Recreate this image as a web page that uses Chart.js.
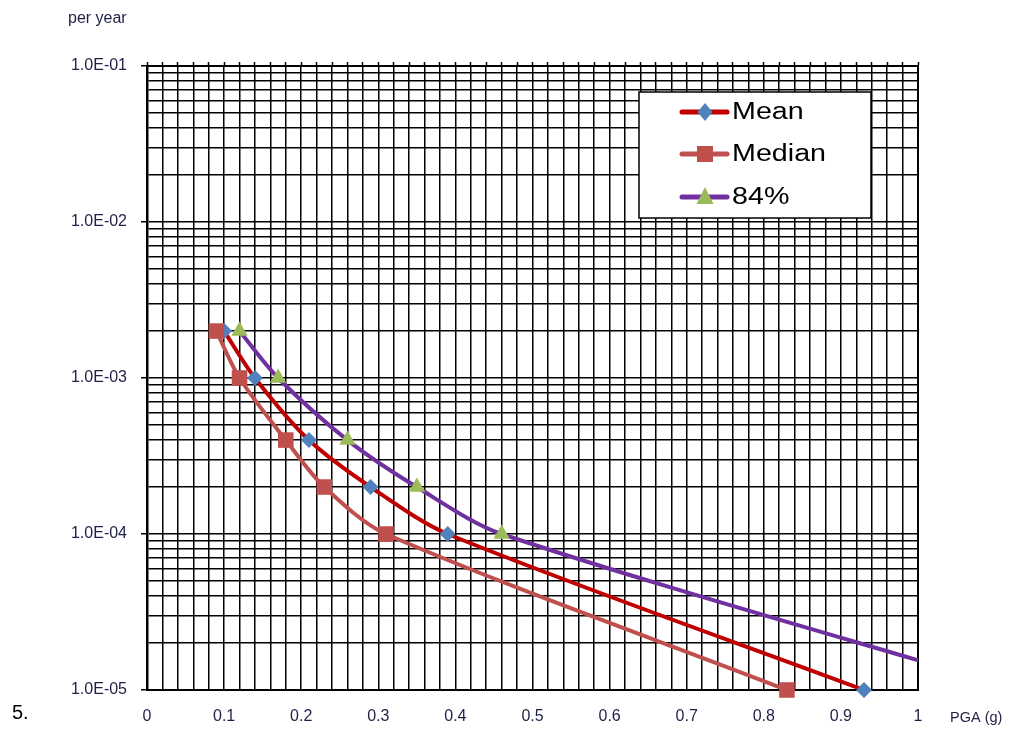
<!DOCTYPE html>
<html>
<head>
<meta charset="utf-8">
<script src="https://cdn.jsdelivr.net/npm/chart.js@4.4.0/dist/chart.umd.min.js"></script>
<style>
  html, body { margin: 0; padding: 0; background: #fff; }
  #wrap { position: relative; width: 1010px; height: 733px; }
</style>
</head>
<body>
<div id="wrap"><canvas id="hazardChart" width="1010" height="733"></canvas></div>
<script>
// annual exceedance rates shared by all three curves
const rates = [2e-3, 1e-3, 4e-4, 2e-4, 1e-4, 1e-5];
const meanPga = [0.10, 0.14, 0.21, 0.29, 0.39, 0.93];
const medianPga = [0.09, 0.12, 0.18, 0.23, 0.31, 0.83];
const p84Pga = [0.12, 0.17, 0.26, 0.35, 0.46, 1.13];

const seriesNames = ["Mean", "Median", "84%"];
const lineColors = ["#c00000", "#c0504d", "#7030a0"];
const markerColors = ["#4f81bd", "#c0504d", "#9bbb59"];
const markerShapes = ["diamond", "square", "triangle"];

const xTickLabels = ["0", "0.1", "0.2", "0.3", "0.4", "0.5", "0.6", "0.7", "0.8", "0.9", "1"];
const yMajorTicks = [1e-5, 1e-4, 1e-3, 1e-2, 1e-1];
const yTickLabels = ["1.0E-05", "1.0E-04", "1.0E-03", "1.0E-02", "1.0E-01"];

const FONT = "'Liberation Sans', Arial, sans-serif";
const TEXT_COLOR = "#1f2046";

function toPoints(xs) {
    return xs.map((x, i) => ({ x: x, y: rates[i] }));
}

function isMajorY(v) {
    return yMajorTicks.findIndex(m => Math.abs(m - v) / m < 1e-6);
}

function xGridTicks(scale) {
    const t = [];
    for (let i = 0; i <= 50; i++) t.push({ value: i / 50 });
    scale.ticks = t;
}

// legend sample markers
function drawMarker(ctx, shape, x, y, color) {
    ctx.save();
    ctx.fillStyle = color;
    ctx.beginPath();
    if (shape === "diamond") {
        ctx.moveTo(x - 7.5, y); ctx.lineTo(x, y - 9); ctx.lineTo(x + 7.5, y); ctx.lineTo(x, y + 9);
    } else if (shape === "square") {
        ctx.rect(x - 8, y - 8, 16, 16);
    } else {
        ctx.moveTo(x, y - 10);
        ctx.lineTo(x + 8.5, y + 7);
        ctx.lineTo(x - 8.5, y + 7);
    }
    ctx.closePath();
    ctx.fill();
    ctx.restore();
}

const extrasPlugin = {
    id: "extras",
    beforeDatasetsDraw(chart) {
        const a = chart.chartArea;
        const ctx = chart.ctx;
        ctx.save();
        ctx.strokeStyle = "#000";
        ctx.lineWidth = 2;
        ctx.strokeRect(a.left, a.top, a.right - a.left, a.bottom - a.top);
        ctx.restore();
    },
    afterDraw(chart) {
        const ctx = chart.ctx;
        ctx.save();
        // loose texts around the plot
        ctx.fillStyle = TEXT_COLOR;
        ctx.textBaseline = "middle";
        ctx.textAlign = "left";
        ctx.font = "16px " + FONT;
        ctx.fillText("per year", 68, 19);
        ctx.font = "14.5px " + FONT;
        ctx.fillText("PGA (g)", 950, 718);
        ctx.fillStyle = "#000";
        ctx.font = "20px " + FONT;
        ctx.fillText("5.", 12, 713);

        // legend box
        ctx.fillStyle = "#fff";
        ctx.fillRect(639, 92, 232, 126);
        ctx.strokeStyle = "#000";
        ctx.lineWidth = 1.5;
        ctx.strokeRect(639, 92, 232, 126);
        const rows = [112, 154, 197];
        seriesNames.forEach((name, i) => {
            const y = rows[i];
            ctx.strokeStyle = lineColors[i];
            ctx.lineWidth = 5;
            ctx.lineCap = "round";
            ctx.beginPath();
            ctx.moveTo(682, y);
            ctx.lineTo(727, y);
            ctx.stroke();
            drawMarker(ctx, markerShapes[i], 705, y, markerColors[i]);
            ctx.save();
            ctx.translate(732, y + 1);
            ctx.scale(1.22, 1);
            ctx.fillStyle = "#000";
            ctx.font = "23.5px " + FONT;
            ctx.fillText(name, 0, 0);
            ctx.restore();
        });
        ctx.restore();
    }
};

const pointStyles = { diamond: "rectRot", square: "rect", triangle: "triangle" };
const pointRadii = { diamond: 8, square: 11, triangle: 9.5 };

function makeDataset(i, xs, order, clip) {
    return {
        label: seriesNames[i],
        data: toPoints(xs),
        borderColor: lineColors[i],
        borderWidth: 4,
        backgroundColor: markerColors[i],
        pointBackgroundColor: markerColors[i],
        pointBorderColor: markerColors[i],
        pointBorderWidth: 0,
        pointStyle: pointStyles[markerShapes[i]],
        pointRadius: pointRadii[markerShapes[i]],
        tension: 0.3,
        order: order,
        clip: clip
    };
}

const ctx = document.getElementById("hazardChart").getContext("2d");
new Chart(ctx, {
    type: "line",
    data: {
        datasets: [
            makeDataset(0, meanPga, 2, false),
            makeDataset(1, medianPga, 1, false),
            makeDataset(2, p84Pga, 0, { left: false, top: false, right: 0, bottom: false })
        ]
    },
    options: {
        responsive: false,
        animation: false,
        devicePixelRatio: 1,
        layout: { padding: { top: 61, right: 92, bottom: 0, left: 0 } },
        plugins: { legend: { display: false }, tooltip: { enabled: false } },
        scales: {
            x: {
                type: "linear",
                position: "bottom",
                min: 0,
                max: 1,
                afterBuildTicks: xGridTicks,
                afterFit: s => { s.height = 43; },
                ticks: {
                    autoSkip: false,
                    maxRotation: 0,
                    padding: 17,
                    color: TEXT_COLOR,
                    font: { family: FONT, size: 16 },
                    callback: v => {
                        const k = Math.round(v * 50);
                        return k % 5 === 0 ? xTickLabels[k / 5] : "";
                    }
                },
                grid: { color: "#000", lineWidth: 1.5, drawTicks: false },
                border: { color: "#000", width: 2 }
            },
            xTop: {
                type: "linear",
                position: "top",
                min: 0,
                max: 1,
                afterBuildTicks: xGridTicks,
                afterFit: s => { s.height = 5; },
                ticks: { display: false },
                grid: {
                    drawOnChartArea: false,
                    tickLength: 4,
                    tickColor: "#000",
                    tickWidth: 1.5
                },
                border: { color: "#000", width: 2 }
            },
            y: {
                type: "logarithmic",
                min: 1e-5,
                max: 1e-1,
                afterBuildTicks: scale => {
                    const t = [];
                    for (let d = -5; d <= -2; d++) {
                        for (let s = 1; s <= 9; s++) {
                            t.push({ value: Number((s * Math.pow(10, d)).toPrecision(3)) });
                        }
                    }
                    t.push({ value: 1e-1 });
                    scale.ticks = t;
                },
                afterFit: s => { s.width = 147; },
                ticks: {
                    autoSkip: false,
                    padding: 14,
                    color: TEXT_COLOR,
                    font: { family: FONT, size: 16 },
                    callback: v => {
                        const i = isMajorY(v);
                        return i >= 0 ? yTickLabels[i] : "";
                    }
                },
                grid: {
                    color: "#000",
                    lineWidth: 1.5,
                    tickLength: 6,
                    tickColor: c => (c.tick && isMajorY(c.tick.value) >= 0 ? "#000" : "rgba(0,0,0,0)")
                },
                border: { color: "#000", width: 2.5 }
            }
        }
    },
    plugins: [extrasPlugin]
});
</script>
</body>
</html>
